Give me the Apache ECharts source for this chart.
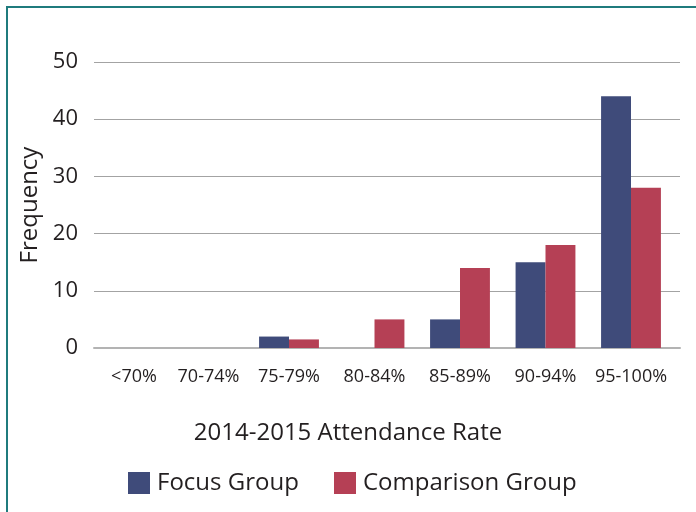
<!DOCTYPE html>
<html><head><meta charset="utf-8">
<script src="https://cdn.jsdelivr.net/npm/echarts@6/dist/echarts.min.js"></script>
<style>html,body{margin:0;padding:0;background:#fff}#c{width:696px;height:512px}</style>
</head><body><div id="c"></div>
<script>
const categories = ['<70%', '70-74%', '75-79%', '80-84%', '85-89%', '90-94%', '95-100%'];
const focusGroup = [0, 0, 2, 0, 5, 15, 44];
const comparisonGroup = [0, 0, 1.5, 5, 14, 18, 28];
const yTicks = [0, 10, 20, 30, 40, 50];

const FONT = "'Open Sans', sans-serif";
const TXT = '#231f20';
// small left padding for the first two labels, as in the reference layout
const labelPad = { '<70%': 32, '70-74%': 10 };
const xCats = categories.map(c => labelPad[c]
  ? { value: c, textStyle: { padding: [0, 0, 0, labelPad[c]] } } : c);

const chart = echarts.init(document.getElementById('c'));
chart.setOption({
  animation: false,
  textStyle: { fontFamily: FONT },
  graphic: [{
    type: 'rect', shape: { x: 7, y: 7, width: 720, height: 520 },
    style: { fill: 'none', stroke: '#1f7b7d', lineWidth: 2 }, silent: true
  }],
  title: {
    text: '2014-2015 Attendance Rate', left: 'center', top: 421, padding: 0,
    textStyle: { fontSize: 24, fontWeight: 'normal', color: TXT, fontFamily: FONT }
  },
  grid: [
    { left: 94, right: 16, top: 62, bottom: 164 },
    { left: 75.25, right: 22.25, top: 62, bottom: 164 }
  ],
  legend: [
    { left: 123, top: 466, itemWidth: 22, itemHeight: 22, icon: 'rect',
      textStyle: { fontSize: 24, color: TXT, fontFamily: FONT, padding: [2, 0, 0, 2] },
      data: ['Focus Group'] },
    { left: 329, top: 466, itemWidth: 22, itemHeight: 22, icon: 'rect',
      textStyle: { fontSize: 24, color: TXT, fontFamily: FONT, padding: [2, 0, 0, 2] },
      data: ['Comparison Group'] }
  ],
  xAxis: [
    { type: 'category', gridIndex: 0, data: categories,
      axisLine: { lineStyle: { color: '#b3b3b3', width: 2 } },
      axisTick: { show: false }, axisLabel: { show: false } },
    { type: 'category', gridIndex: 1, data: xCats,
      axisLine: { show: false }, axisTick: { show: false },
      axisLabel: { fontSize: 18, color: TXT, margin: 20, fontFamily: FONT, interval: 0 } }
  ],
  yAxis: [
    { type: 'value', gridIndex: 0, min: 0, max: 50, interval: 10,
      axisLine: { show: false }, axisTick: { show: false },
      splitLine: { lineStyle: { color: '#a3a3a3', width: 1 } },
      axisLabel: { fontSize: 22, color: TXT, margin: 16, fontFamily: FONT, padding: [0, 0, 6, 0],
        formatter: v => yTicks.includes(v) ? String(v) : '' },
      name: 'Frequency', nameLocation: 'middle', nameGap: 52, nameRotate: 90,
      nameTextStyle: { fontSize: 24, color: TXT, fontFamily: FONT } },
    { type: 'value', gridIndex: 1, min: 0, max: 50, interval: 10, show: false,
      splitLine: { show: false } }
  ],
  series: [
    { name: 'Focus Group', type: 'bar', xAxisIndex: 1, yAxisIndex: 1, data: focusGroup,
      barGap: '0%', barCategoryGap: '30%', itemStyle: { color: '#3f4b7a' } },
    { name: 'Comparison Group', type: 'bar', xAxisIndex: 1, yAxisIndex: 1, data: comparisonGroup,
      barGap: '0%', barCategoryGap: '30%', itemStyle: { color: '#b54055' } }
  ]
});
</script></body></html>
